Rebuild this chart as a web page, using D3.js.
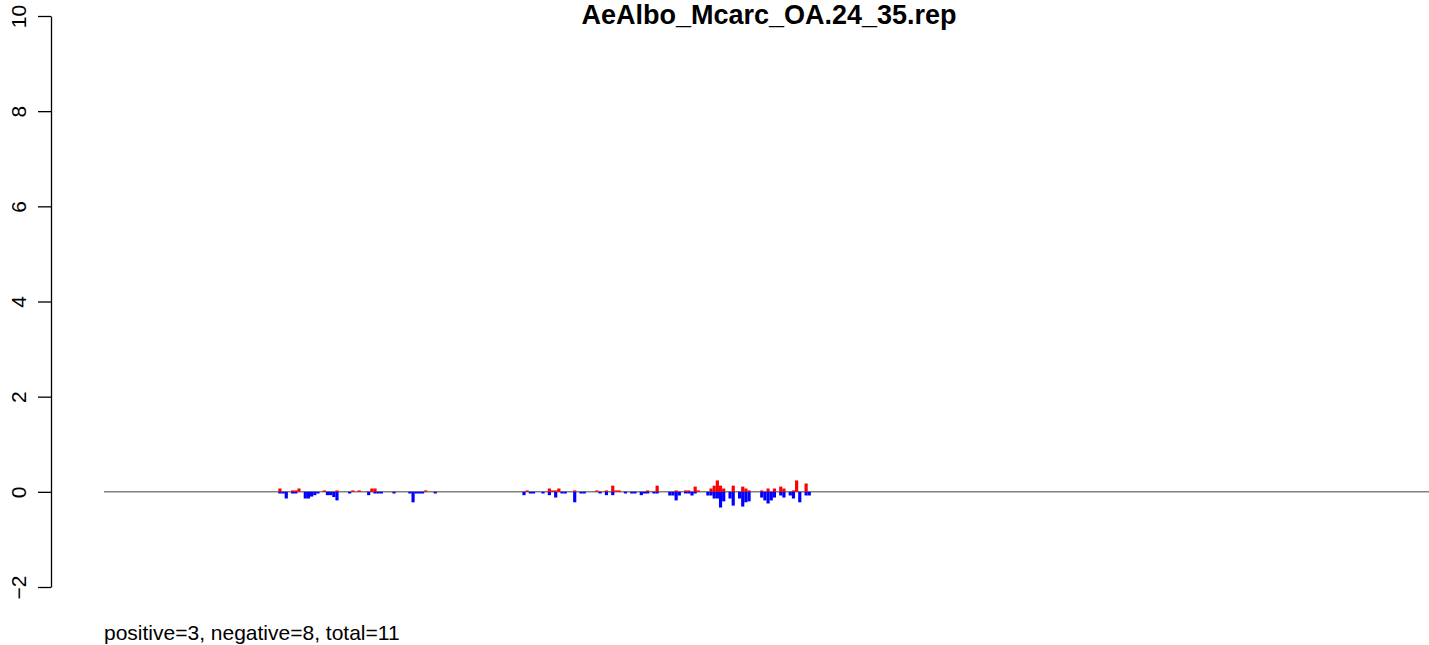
<!DOCTYPE html>
<html>
<head>
<meta charset="utf-8">
<script src="https://cdnjs.cloudflare.com/ajax/libs/d3/7.8.5/d3.min.js"></script>
<style>
  html, body { margin: 0; padding: 0; background: #fff; }
  svg { display: block; }
</style>
</head>
<body>
<script>
// ---- data ----
const title = "AeAlbo_Mcarc_OA.24_35.rep";
const footer = "positive=3, negative=8, total=11";
const yTicks = [-2, 0, 2, 4, 6, 8, 10];
const positionCount = 418;

const posIdx = [55, 59, 60, 61, 69, 73, 78, 80, 84, 85, 101,
  133, 140, 141, 142, 143, 148, 155, 158, 160, 161, 162, 171, 174,
  180, 183, 184, 186, 187, 191, 192, 193, 194, 195, 198, 201, 202, 203, 207, 209, 211, 213, 214, 217, 218, 221];
const posVal = [0.07, 0.03, 0.03, 0.07, 0.03, 0.03, 0.03, 0.03, 0.07, 0.07, 0.03,
  0.03, 0.07, 0.03, 0.03, 0.07, 0.03, 0.03, 0.03, 0.13, 0.03, 0.03, 0.03, 0.13,
  0.03, 0.03, 0.03, 0.11, 0.03, 0.07, 0.13, 0.24, 0.13, 0.07, 0.13, 0.11, 0.07, 0.03, 0.03, 0.07, 0.07, 0.11, 0.07, 0.03, 0.24, 0.175];

const negIdx = [55, 56, 57, 59, 60, 63, 64, 65, 66, 67, 70, 71, 72, 73, 77, 83, 85, 86, 87, 91, 96, 97, 98, 99, 100, 104,
  132, 134, 135, 138, 140, 142, 144, 145, 148, 150, 151, 156, 158, 160, 164, 166, 167, 169, 170, 171, 173, 174,
  178, 179, 180, 181, 183, 184, 185, 186, 190, 191, 192, 193, 194, 195, 197, 198, 200, 201, 202, 203, 207, 208, 209, 210, 211, 213, 214, 216, 217, 219, 221, 222];
const negVal = [0.035, 0.035, 0.14, 0.035, 0.035, 0.14, 0.14, 0.1, 0.07, 0.035, 0.07, 0.07, 0.11, 0.18, 0.035, 0.07, 0.035, 0.035, 0.035, 0.035, 0.035, 0.22, 0.035, 0.035, 0.035, 0.035,
  0.07, 0.035, 0.035, 0.035, 0.07, 0.12, 0.035, 0.035, 0.22, 0.035, 0.035, 0.035, 0.07, 0.07, 0.035, 0.035, 0.035, 0.07, 0.035, 0.035, 0.035, 0.035,
  0.077, 0.077, 0.18, 0.077, 0.035, 0.035, 0.077, 0.035, 0.077, 0.077, 0.14, 0.14, 0.33, 0.2, 0.14, 0.29, 0.14, 0.31, 0.22, 0.2, 0.12, 0.18, 0.245, 0.18, 0.12, 0.077, 0.12, 0.077, 0.14, 0.22, 0.077, 0.077];

// ---- layout ----
const W = 1429, H = 645;
const svg = d3.select("body").append("svg").attr("width", W).attr("height", H)
  .style("font-family", "'Liberation Sans', Arial, sans-serif");

const x = d3.scaleLinear().domain([0, positionCount]).range([104, 1429]);
const y = d3.scaleLinear().domain([-2, 10]).range([587, 16]);
const bw = x(1) - x(0);

// zero line
svg.append("line")
  .attr("x1", x(0)).attr("x2", x(positionCount))
  .attr("y1", y(0)).attr("y2", y(0))
  .attr("stroke", "#444").attr("stroke-width", 1);

// positive bars
svg.append("g").selectAll("rect").data(posIdx.map((d, i) => ({ i: d, v: posVal[i] })))
  .join("rect")
  .attr("x", d => x(d.i)).attr("width", bw)
  .attr("y", d => y(d.v)).attr("height", d => y(0) - y(d.v))
  .attr("fill", "#ff0000");

// negative bars
svg.append("g").selectAll("rect").data(negIdx.map((d, i) => ({ i: d, v: negVal[i] })))
  .join("rect")
  .attr("x", d => x(d.i)).attr("width", bw)
  .attr("y", y(0)).attr("height", d => y(-d.v) - y(0))
  .attr("fill", "#0000ff");

// y axis
const ax = svg.append("g").attr("transform", "translate(51,0)")
  .call(d3.axisLeft(y).tickValues(yTicks).tickSize(13).tickSizeOuter(0)
    .tickFormat(d => d < 0 ? "\u2212" + Math.abs(d) : d));
ax.select(".domain").attr("stroke", "#000").attr("stroke-width", 1.3);
ax.selectAll(".tick line").attr("stroke", "#000").attr("stroke-width", 1.3);
ax.selectAll(".tick text")
  .attr("font-size", 21).attr("font-family", "'Liberation Sans', Arial, sans-serif")
  .attr("fill", "#000")
  .attr("transform", "rotate(-90)")
  .attr("x", 0).attr("y", -25).attr("dy", 0)
  .attr("text-anchor", "middle");

// title
svg.append("text").attr("x", 769).attr("y", 24)
  .attr("text-anchor", "middle").attr("font-size", 27).attr("font-weight", "bold")
  .text(title);

// footer
svg.append("text").attr("x", 104).attr("y", 640)
  .attr("font-size", 21).text(footer);
</script>
</body>
</html>
